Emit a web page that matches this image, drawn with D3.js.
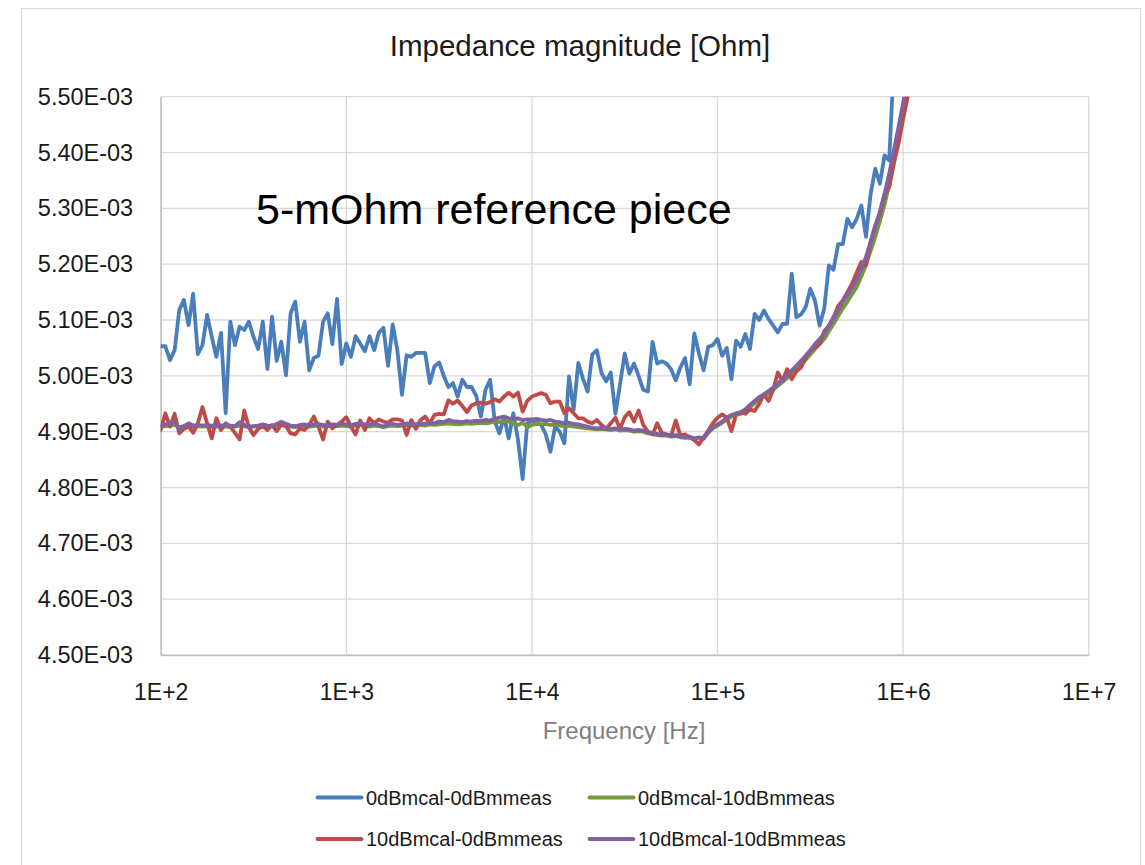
<!DOCTYPE html>
<html>
<head>
<meta charset="utf-8">
<script src="https://cdn.jsdelivr.net/npm/d3@7"></script>
<style>
  body { margin: 0; background: #fff; }
  svg text { font-family: "Liberation Sans", Arial, sans-serif; }
</style>
</head>
<body>
<div id="chart"></div>
<script>
// VNA sweep: 40 points per decade starting at 100 Hz
const sweep_start = 100;
const points_per_decade = 40;

// impedance values in mOhm, one per sweep point
const blue_mohm = [
  5.053, 5.053, 5.028, 5.046, 5.118, 5.136, 5.091, 5.147, 5.039, 5.055,
  5.109, 5.070, 5.034, 5.077, 4.933, 5.097, 5.055, 5.088, 5.082, 5.097,
  5.070, 5.048, 5.097, 5.012, 5.106, 5.027, 5.061, 5.001, 5.112, 5.133,
  5.061, 5.097, 5.010, 5.032, 5.036, 5.097, 5.112, 5.057, 5.138, 5.021,
  5.058, 5.034, 5.071, 5.058, 5.044, 5.071, 5.046, 5.077, 5.086, 5.018,
  5.092, 5.046, 4.966, 5.037, 5.034, 5.041, 5.041, 5.041, 4.987, 5.017,
  5.024, 5.000, 4.980, 4.987, 4.963, 4.993, 4.980, 4.980, 4.964, 4.927,
  4.975, 4.993, 4.918, 4.897, 4.927, 4.888, 4.933, 4.886, 4.815, 4.915,
  4.920, 4.918, 4.912, 4.895, 4.864, 4.909, 4.900, 4.879, 4.999, 4.939,
  5.023, 4.995, 4.972, 5.038, 5.046, 5.005, 4.990, 5.006, 4.932, 4.985,
  5.040, 5.004, 5.022, 5.000, 4.975, 4.972, 5.061, 5.022, 5.026, 5.022,
  5.012, 4.992, 5.015, 5.032, 4.985, 5.076, 5.040, 5.010, 5.052, 5.055,
  5.066, 5.036, 5.050, 4.994, 5.063, 5.052, 5.075, 5.048, 5.111, 5.100,
  5.117, 5.102, 5.090, 5.078, 5.093, 5.093, 5.183, 5.105, 5.110, 5.123,
  5.156, 5.135, 5.090, 5.120, 5.198, 5.190, 5.236, 5.236, 5.281, 5.266,
  5.281, 5.305, 5.249, 5.326, 5.371, 5.344, 5.395, 5.386, 5.560, 5.700,
  5.850
];

const green_mohm = [
  4.909, 4.910, 4.911, 4.912, 4.908, 4.910, 4.911, 4.909, 4.910, 4.909,
  4.910, 4.908, 4.909, 4.910, 4.909, 4.908, 4.909, 4.911, 4.910, 4.908,
  4.909, 4.910, 4.909, 4.908, 4.910, 4.911, 4.912, 4.910, 4.909, 4.908,
  4.910, 4.911, 4.909, 4.910, 4.911, 4.909, 4.910, 4.911, 4.910, 4.911,
  4.910, 4.909, 4.911, 4.912, 4.910, 4.909, 4.911, 4.910, 4.908, 4.910,
  4.911, 4.910, 4.911, 4.912, 4.911, 4.910, 4.912, 4.911, 4.913, 4.912,
  4.913, 4.914, 4.915, 4.914, 4.913, 4.914, 4.915, 4.914, 4.915, 4.916,
  4.915, 4.916, 4.918, 4.917, 4.919, 4.918, 4.915, 4.912, 4.916, 4.908,
  4.912, 4.914, 4.913, 4.914, 4.912, 4.913, 4.911, 4.910, 4.911, 4.909,
  4.908, 4.907, 4.906, 4.905, 4.904, 4.905, 4.904, 4.903, 4.904, 4.902,
  4.903, 4.902, 4.900, 4.901, 4.900, 4.897, 4.896, 4.894, 4.893, 4.893,
  4.891, 4.892, 4.890, 4.889, 4.889, 4.887, 4.888, 4.887, 4.898, 4.906,
  4.911, 4.916, 4.922, 4.927, 4.930, 4.932, 4.937, 4.944, 4.951, 4.958,
  4.963, 4.969, 4.975, 4.982, 4.989, 4.996, 5.004, 5.012, 5.020, 5.029,
  5.038, 5.048, 5.057, 5.066, 5.080, 5.093, 5.107, 5.121, 5.133, 5.146,
  5.159, 5.178, 5.199, 5.224, 5.249, 5.277, 5.307, 5.342, 5.382, 5.422,
  5.465, 5.510, 5.560
];

const red_mohm = [
  4.903, 4.933, 4.909, 4.932, 4.897, 4.905, 4.910, 4.898, 4.915, 4.944,
  4.915, 4.888, 4.924, 4.903, 4.915, 4.909, 4.898, 4.886, 4.938, 4.908,
  4.894, 4.905, 4.910, 4.903, 4.912, 4.901, 4.913, 4.910, 4.897, 4.895,
  4.906, 4.903, 4.912, 4.927, 4.909, 4.886, 4.918, 4.906, 4.912, 4.918,
  4.926, 4.909, 4.895, 4.920, 4.903, 4.924, 4.915, 4.922, 4.918, 4.916,
  4.922, 4.922, 4.920, 4.894, 4.921, 4.905, 4.921, 4.927, 4.915, 4.930,
  4.932, 4.931, 4.956, 4.950, 4.956, 4.946, 4.935, 4.947, 4.951, 4.952,
  4.950, 4.953, 4.958, 4.954, 4.963, 4.970, 4.963, 4.970, 4.936, 4.955,
  4.963, 4.966, 4.969, 4.966, 4.951, 4.954, 4.954, 4.933, 4.942, 4.933,
  4.924, 4.924, 4.918, 4.915, 4.921, 4.912, 4.905, 4.915, 4.925, 4.905,
  4.926, 4.935, 4.918, 4.938, 4.912, 4.900, 4.895, 4.915, 4.898, 4.895,
  4.893, 4.920, 4.893, 4.895, 4.890, 4.885, 4.877, 4.890, 4.902, 4.915,
  4.925, 4.931, 4.925, 4.901, 4.931, 4.935, 4.932, 4.940, 4.937, 4.950,
  4.967, 4.955, 4.975, 5.006, 4.991, 5.012, 4.994, 5.008, 5.015, 5.033,
  5.045, 5.051, 5.057, 5.080, 5.090, 5.105, 5.125, 5.135, 5.150, 5.165,
  5.185, 5.204, 5.198, 5.240, 5.270, 5.290, 5.325, 5.338, 5.380, 5.416,
  5.460, 5.500, 5.550
];

const purple_mohm = [
  4.911, 4.913, 4.914, 4.918, 4.905, 4.910, 4.915, 4.911, 4.912, 4.911,
  4.912, 4.911, 4.910, 4.911, 4.912, 4.911, 4.910, 4.917, 4.912, 4.909,
  4.910, 4.911, 4.913, 4.911, 4.910, 4.914, 4.918, 4.914, 4.911, 4.910,
  4.912, 4.913, 4.911, 4.913, 4.914, 4.912, 4.911, 4.913, 4.912, 4.914,
  4.913, 4.912, 4.914, 4.915, 4.913, 4.912, 4.914, 4.912, 4.909, 4.913,
  4.914, 4.912, 4.913, 4.915, 4.914, 4.913, 4.915, 4.914, 4.916, 4.915,
  4.918, 4.917, 4.921, 4.919, 4.918, 4.917, 4.919, 4.918, 4.920, 4.919,
  4.921, 4.920, 4.923, 4.925, 4.927, 4.924, 4.923, 4.924, 4.921, 4.922,
  4.922, 4.923, 4.921, 4.920, 4.921, 4.918, 4.917, 4.915, 4.916, 4.914,
  4.913, 4.911, 4.909, 4.907, 4.906, 4.907, 4.906, 4.905, 4.906, 4.904,
  4.905, 4.904, 4.902, 4.903, 4.902, 4.899, 4.898, 4.896, 4.894, 4.895,
  4.893, 4.894, 4.892, 4.890, 4.891, 4.888, 4.890, 4.888, 4.900, 4.908,
  4.913, 4.918, 4.925, 4.930, 4.933, 4.935, 4.940, 4.948, 4.955, 4.962,
  4.967, 4.973, 4.979, 4.986, 4.994, 5.001, 5.010, 5.018, 5.027, 5.036,
  5.046, 5.057, 5.066, 5.075, 5.090, 5.103, 5.118, 5.133, 5.145, 5.158,
  5.171, 5.192, 5.213, 5.240, 5.266, 5.295, 5.326, 5.362, 5.404, 5.445,
  5.488, 5.535, 5.585
];

const series_names = ["0dBmcal-0dBmmeas", "0dBmcal-10dBmmeas", "10dBmcal-0dBmmeas", "10dBmcal-10dBmmeas"];
const series_values = [blue_mohm, green_mohm, red_mohm, purple_mohm];
const series_colors = ["#4a7ebb", "#76973b", "#be4b48", "#7e62a1"];

const x_ticks = [1e2, 1e3, 1e4, 1e5, 1e6, 1e7];
const y_ticks = [4.5e-3, 4.6e-3, 4.7e-3, 4.8e-3, 4.9e-3, 5.0e-3, 5.1e-3, 5.2e-3, 5.3e-3, 5.4e-3, 5.5e-3];

// setup canvas
const canvas_width = 1145;
const canvas_height = 865;
const plot = { left: 160.7, right: 1088.7, top: 96.7, bottom: 655 };

const svg = d3.select("#chart").append("svg")
  .attr("width", canvas_width)
  .attr("height", canvas_height);

// chart frame
svg.append("rect")
  .attr("x", 21.5).attr("y", 8.5)
  .attr("width", 1119).attr("height", 900)
  .attr("fill", "#fff")
  .attr("stroke", "#d9d9d9");

const x = d3.scaleLog().domain([1e2, 1e7]).range([plot.left, plot.right]);
const y = d3.scaleLinear().domain([4.5e-3, 5.5e-3]).range([plot.bottom, plot.top]);

// tick label formats like Excel's scientific format
const fmt_y = v => {
  const parts = v.toExponential(2).split("e");
  const e = +parts[1];
  return parts[0] + "E" + (e < 0 ? "-" : "+") + String(Math.abs(e)).padStart(2, "0");
};
const fmt_x = v => "1E+" + Math.round(Math.log10(v));

// gridlines
svg.append("g")
  .selectAll("line.hgrid")
  .data(y_ticks)
  .enter().append("line")
    .attr("x1", plot.left).attr("x2", plot.right)
    .attr("y1", d => y(d)).attr("y2", d => y(d))
    .attr("stroke", "#d9d9d9").attr("stroke-width", 1.3);

svg.append("g")
  .selectAll("line.vgrid")
  .data(x_ticks)
  .enter().append("line")
    .attr("x1", d => x(d)).attr("x2", d => x(d))
    .attr("y1", plot.top).attr("y2", plot.bottom)
    .attr("stroke", "#d9d9d9").attr("stroke-width", 1.3);

// axes
const y_axis = svg.append("g")
  .attr("transform", `translate(${plot.left},0)`)
  .call(d3.axisLeft(y).tickValues(y_ticks).tickFormat(fmt_y).tickSize(0).tickPadding(27.5));
y_axis.select(".domain").attr("stroke", "#bfbfbf").attr("stroke-width", 1.3);
y_axis.selectAll("text").attr("font-size", 23.5).attr("fill", "#1a1a1a")
  .attr("font-family", "'Liberation Sans', Arial, sans-serif");

const x_axis = svg.append("g")
  .attr("transform", `translate(0,${plot.bottom})`)
  .call(d3.axisBottom(x).tickValues(x_ticks).tickFormat(fmt_x).tickSize(0).tickPadding(28.5));
x_axis.select(".domain").attr("stroke", "#bfbfbf").attr("stroke-width", 1.3);
x_axis.selectAll("text").attr("font-size", 23).attr("fill", "#1a1a1a")
  .attr("font-family", "'Liberation Sans', Arial, sans-serif");

// lines, clipped to the plot area
svg.append("clipPath").attr("id", "plot-clip")
  .append("rect")
    .attr("x", plot.left).attr("y", plot.top)
    .attr("width", plot.right - plot.left).attr("height", plot.bottom - plot.top);

const line = d3.line()
  .x((d, i) => x(sweep_start * Math.pow(10, i / points_per_decade)))
  .y(d => y(d / 1000));

svg.append("g")
  .attr("clip-path", "url(#plot-clip)")
  .selectAll("path")
  .data(series_values)
  .enter().append("path")
    .attr("d", d => line(d))
    .attr("fill", "none")
    .attr("stroke", (d, i) => series_colors[i])
    .attr("stroke-width", 3.8)
    .attr("stroke-linejoin", "round")
    .attr("stroke-linecap", "round");

// titles
svg.append("text")
  .attr("x", 580).attr("y", 56)
  .attr("text-anchor", "middle")
  .attr("font-size", 29.5)
  .attr("fill", "#1a1a1a")
  .text("Impedance magnitude [Ohm]");

svg.append("text")
  .attr("x", 624).attr("y", 739)
  .attr("text-anchor", "middle")
  .attr("font-size", 24)
  .attr("fill", "#7f7f7f")
  .text("Frequency [Hz]");

svg.append("text")
  .attr("x", 256).attr("y", 224)
  .attr("font-size", 43)
  .attr("fill", "#000")
  .text("5-mOhm reference piece");

// legend, two rows
const legend_pos = [[316, 797.5], [588, 797.5], [316, 839], [588, 839]];
const legend = svg.append("g")
  .selectAll("g")
  .data(series_names)
  .enter().append("g")
    .attr("transform", (d, i) => `translate(${legend_pos[i][0]},${legend_pos[i][1]})`);

legend.append("line")
  .attr("x1", 1.5).attr("x2", 45.5)
  .attr("stroke", (d, i) => series_colors[i])
  .attr("stroke-width", 3.8)
  .attr("stroke-linecap", "round");

legend.append("text")
  .attr("x", 50).attr("dy", "0.35em")
  .attr("font-size", 20)
  .attr("fill", "#1a1a1a")
  .text(d => d);
</script>
</body>
</html>
